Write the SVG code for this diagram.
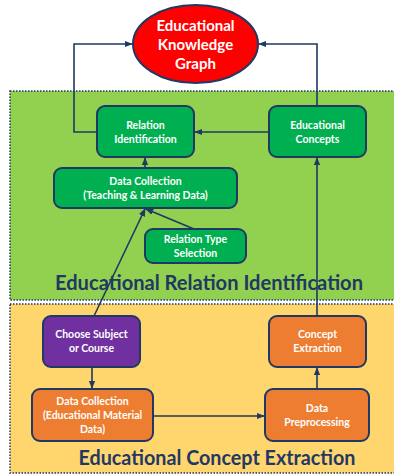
<svg xmlns="http://www.w3.org/2000/svg" width="394" height="476" viewBox="0 0 394 476">
<defs>
<style>
.reg{stroke:#1F3864;stroke-width:1.5;stroke-dasharray:1.5 1.5}
.box{stroke:#1F3864;stroke-width:2}
.g{fill:#00B050}.o{fill:#ED7D31}.p{fill:#7030A0}
.t{font-family:Lato,"Liberation Sans",sans-serif;font-weight:bold;font-size:10.5px;fill:#fff;text-anchor:middle}
.big{font-family:Lato,"Liberation Sans",sans-serif;font-weight:bold;font-size:20px;fill:#1F3864;text-anchor:middle}
.c{fill:none;stroke:#1F3864;stroke-width:1.6}
</style>
<marker id="a" viewBox="0 0 10 10" refX="9" refY="5" markerWidth="5" markerHeight="5" orient="auto-start-reverse">
<path d="M0,1 L10,5 L0,9 z" fill="#1F3864"/>
</marker>
</defs>
<rect width="394" height="476" fill="#fff"/>
<g id="region-relation">
<rect class="reg" x="10" y="91" width="390" height="209" fill="#92D050"/>
<text class="big" x="209" y="290" textLength="308" lengthAdjust="spacingAndGlyphs">Educational Relation Identification</text>
</g>
<g id="region-concept">
<rect class="reg" x="10" y="304" width="390" height="169" fill="#FFD56E"/>
<text class="big" x="217" y="465" textLength="277" lengthAdjust="spacingAndGlyphs">Educational Concept Extraction</text>
</g>
<g id="connectors">
<polyline class="c" points="97,132 74,132 74,44 132,44" marker-end="url(#a)"/>
<polyline class="c" points="317,106 317,44 259,44" marker-end="url(#a)"/>
<line class="c" x1="269" y1="132" x2="195" y2="132" marker-end="url(#a)"/>
<line class="c" x1="145" y1="168" x2="145" y2="158" marker-end="url(#a)"/>
<line class="c" x1="194" y1="229" x2="146" y2="209" marker-end="url(#a)"/>
<line class="c" x1="94" y1="316" x2="145" y2="209" marker-end="url(#a)"/>
<line class="c" x1="317" y1="316" x2="317" y2="158" marker-end="url(#a)"/>
<line class="c" x1="92" y1="367" x2="92" y2="388" marker-end="url(#a)"/>
<line class="c" x1="153" y1="416" x2="264" y2="416" marker-end="url(#a)"/>
<line class="c" x1="317" y1="389" x2="317" y2="368" marker-end="url(#a)"/>
</g>
<g id="ekg">
<ellipse cx="195.5" cy="44" rx="62.5" ry="39" fill="#FF0000" stroke="#1F3864" stroke-width="2"/>
<text class="t" style="font-size:15px"><tspan x="195.5" y="31">Educational</tspan><tspan x="195.5" y="50">Knowledge</tspan><tspan x="195.5" y="69">Graph</tspan></text>
</g>
<g id="relation-identification">
<rect class="box g" x="97" y="106" width="97" height="51" rx="8"/>
<text class="t"><tspan x="145.5" y="129">Relation</tspan><tspan x="145.5" y="143">Identification</tspan></text>
</g>
<g id="educational-concepts">
<rect class="box g" x="269" y="106" width="97" height="51" rx="8"/>
<text class="t"><tspan x="317.5" y="129">Educational</tspan><tspan x="317.5" y="143">Concepts</tspan></text>
</g>
<g id="data-collection-tl">
<rect class="box g" x="54" y="168" width="183" height="40" rx="8"/>
<text class="t"><tspan x="145.5" y="185">Data Collection</tspan><tspan x="145.5" y="199">(Teaching &amp; Learning Data)</tspan></text>
</g>
<g id="relation-type-selection">
<rect class="box g" x="145" y="229" width="101" height="34" rx="8"/>
<text class="t"><tspan x="195.5" y="243">Relation Type</tspan><tspan x="195.5" y="257">Selection</tspan></text>
</g>
<g id="choose-subject">
<rect class="box p" x="43" y="316" width="97" height="51" rx="8"/>
<text class="t"><tspan x="91.5" y="338">Choose Subject</tspan><tspan x="91.5" y="352">or Course</tspan></text>
</g>
<g id="concept-extraction">
<rect class="box o" x="269" y="316" width="97" height="51" rx="8"/>
<text class="t"><tspan x="317.5" y="338">Concept</tspan><tspan x="317.5" y="352">Extraction</tspan></text>
</g>
<g id="data-collection-em">
<rect class="box o" x="32" y="389" width="121" height="52" rx="8"/>
<text class="t"><tspan x="92.5" y="405">Data Collection</tspan><tspan x="92.5" y="419">(Educational Material</tspan><tspan x="92.5" y="433">Data)</tspan></text>
</g>
<g id="data-preprocessing">
<rect class="box o" x="265" y="389" width="104" height="52" rx="8"/>
<text class="t"><tspan x="317" y="412">Data</tspan><tspan x="317" y="426">Preprocessing</tspan></text>
</g>
</svg>
